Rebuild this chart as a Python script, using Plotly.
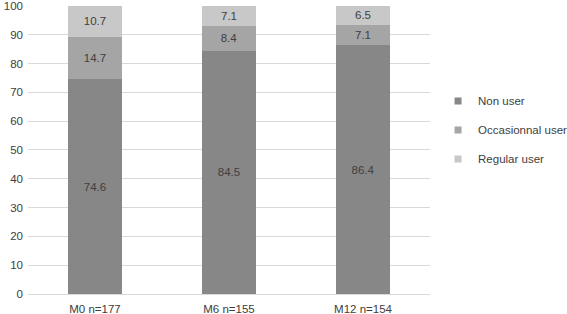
import plotly.graph_objects as go

categories = ["M0 n=177", "M6 n=155", "M12 n=154"]
non_user = [74.6, 84.5, 86.4]
occasional_user = [14.7, 8.4, 7.1]
regular_user = [10.7, 7.1, 6.5]
series_names = ["Non user", "Occasionnal user", "Regular user"]
colors = ["#878787", "#a5a5a5", "#c8c8c8"]
y_ticks = list(range(0, 101, 10))

fig = go.Figure()
for i, (name, vals) in enumerate(zip(series_names, [non_user, occasional_user, regular_user])):
    fig.add_trace(go.Bar(
        x=categories, y=vals, name=name,
        marker=dict(color=colors[i], line=dict(width=0)),
        text=[f"{v:.1f}" for v in vals],
        textposition="inside", insidetextanchor="middle",
        textfont=dict(color="#404040", size=11.5),
        legendgroup=name, showlegend=False,
    ))
# legend entries (small square swatches)
for i, name in enumerate(series_names):
    fig.add_trace(go.Scatter(
        x=[None], y=[None], mode="markers", name=name,
        marker=dict(symbol="square", size=7, color=colors[i]),
        legendgroup=name, showlegend=True,
    ))

fig.update_layout(
    barmode="stack",
    bargap=0.6,
    width=567, height=314,
    margin=dict(l=28, r=137, t=5, b=20, autoexpand=False),
    plot_bgcolor="white", paper_bgcolor="white",
    font=dict(family="Liberation Sans, Arial, sans-serif", size=11.5, color="#404040"),
    uniformtext=dict(minsize=11, mode="show"),
    showlegend=True,
    legend=dict(
        x=1.02, y=0.718, xanchor="left", yanchor="top",
        traceorder="grouped", tracegroupgap=10,
        font=dict(size=11.5, color="#404040"),
        itemwidth=30,
    ),
    xaxis=dict(showgrid=False, showline=False, ticks="", automargin=False,
               ticklabelstandoff=6,
               tickfont=dict(size=11.5, color="#404040")),
    yaxis=dict(range=[0, 100.3], tickvals=y_ticks, showgrid=True, gridcolor="#d9d9d9", gridwidth=1,
               zeroline=True, zerolinecolor="#d9d9d9", zerolinewidth=1, showline=False, ticks="",
               automargin=False, ticklabeloverflow="allow", ticklabelstandoff=4,
               tickfont=dict(size=11.5, color="#404040")),
)

fig.write_html("out.html",
               config={"displayModeBar": False},
               post_script="document.body.style.margin='0';document.body.style.overflow='hidden';")
